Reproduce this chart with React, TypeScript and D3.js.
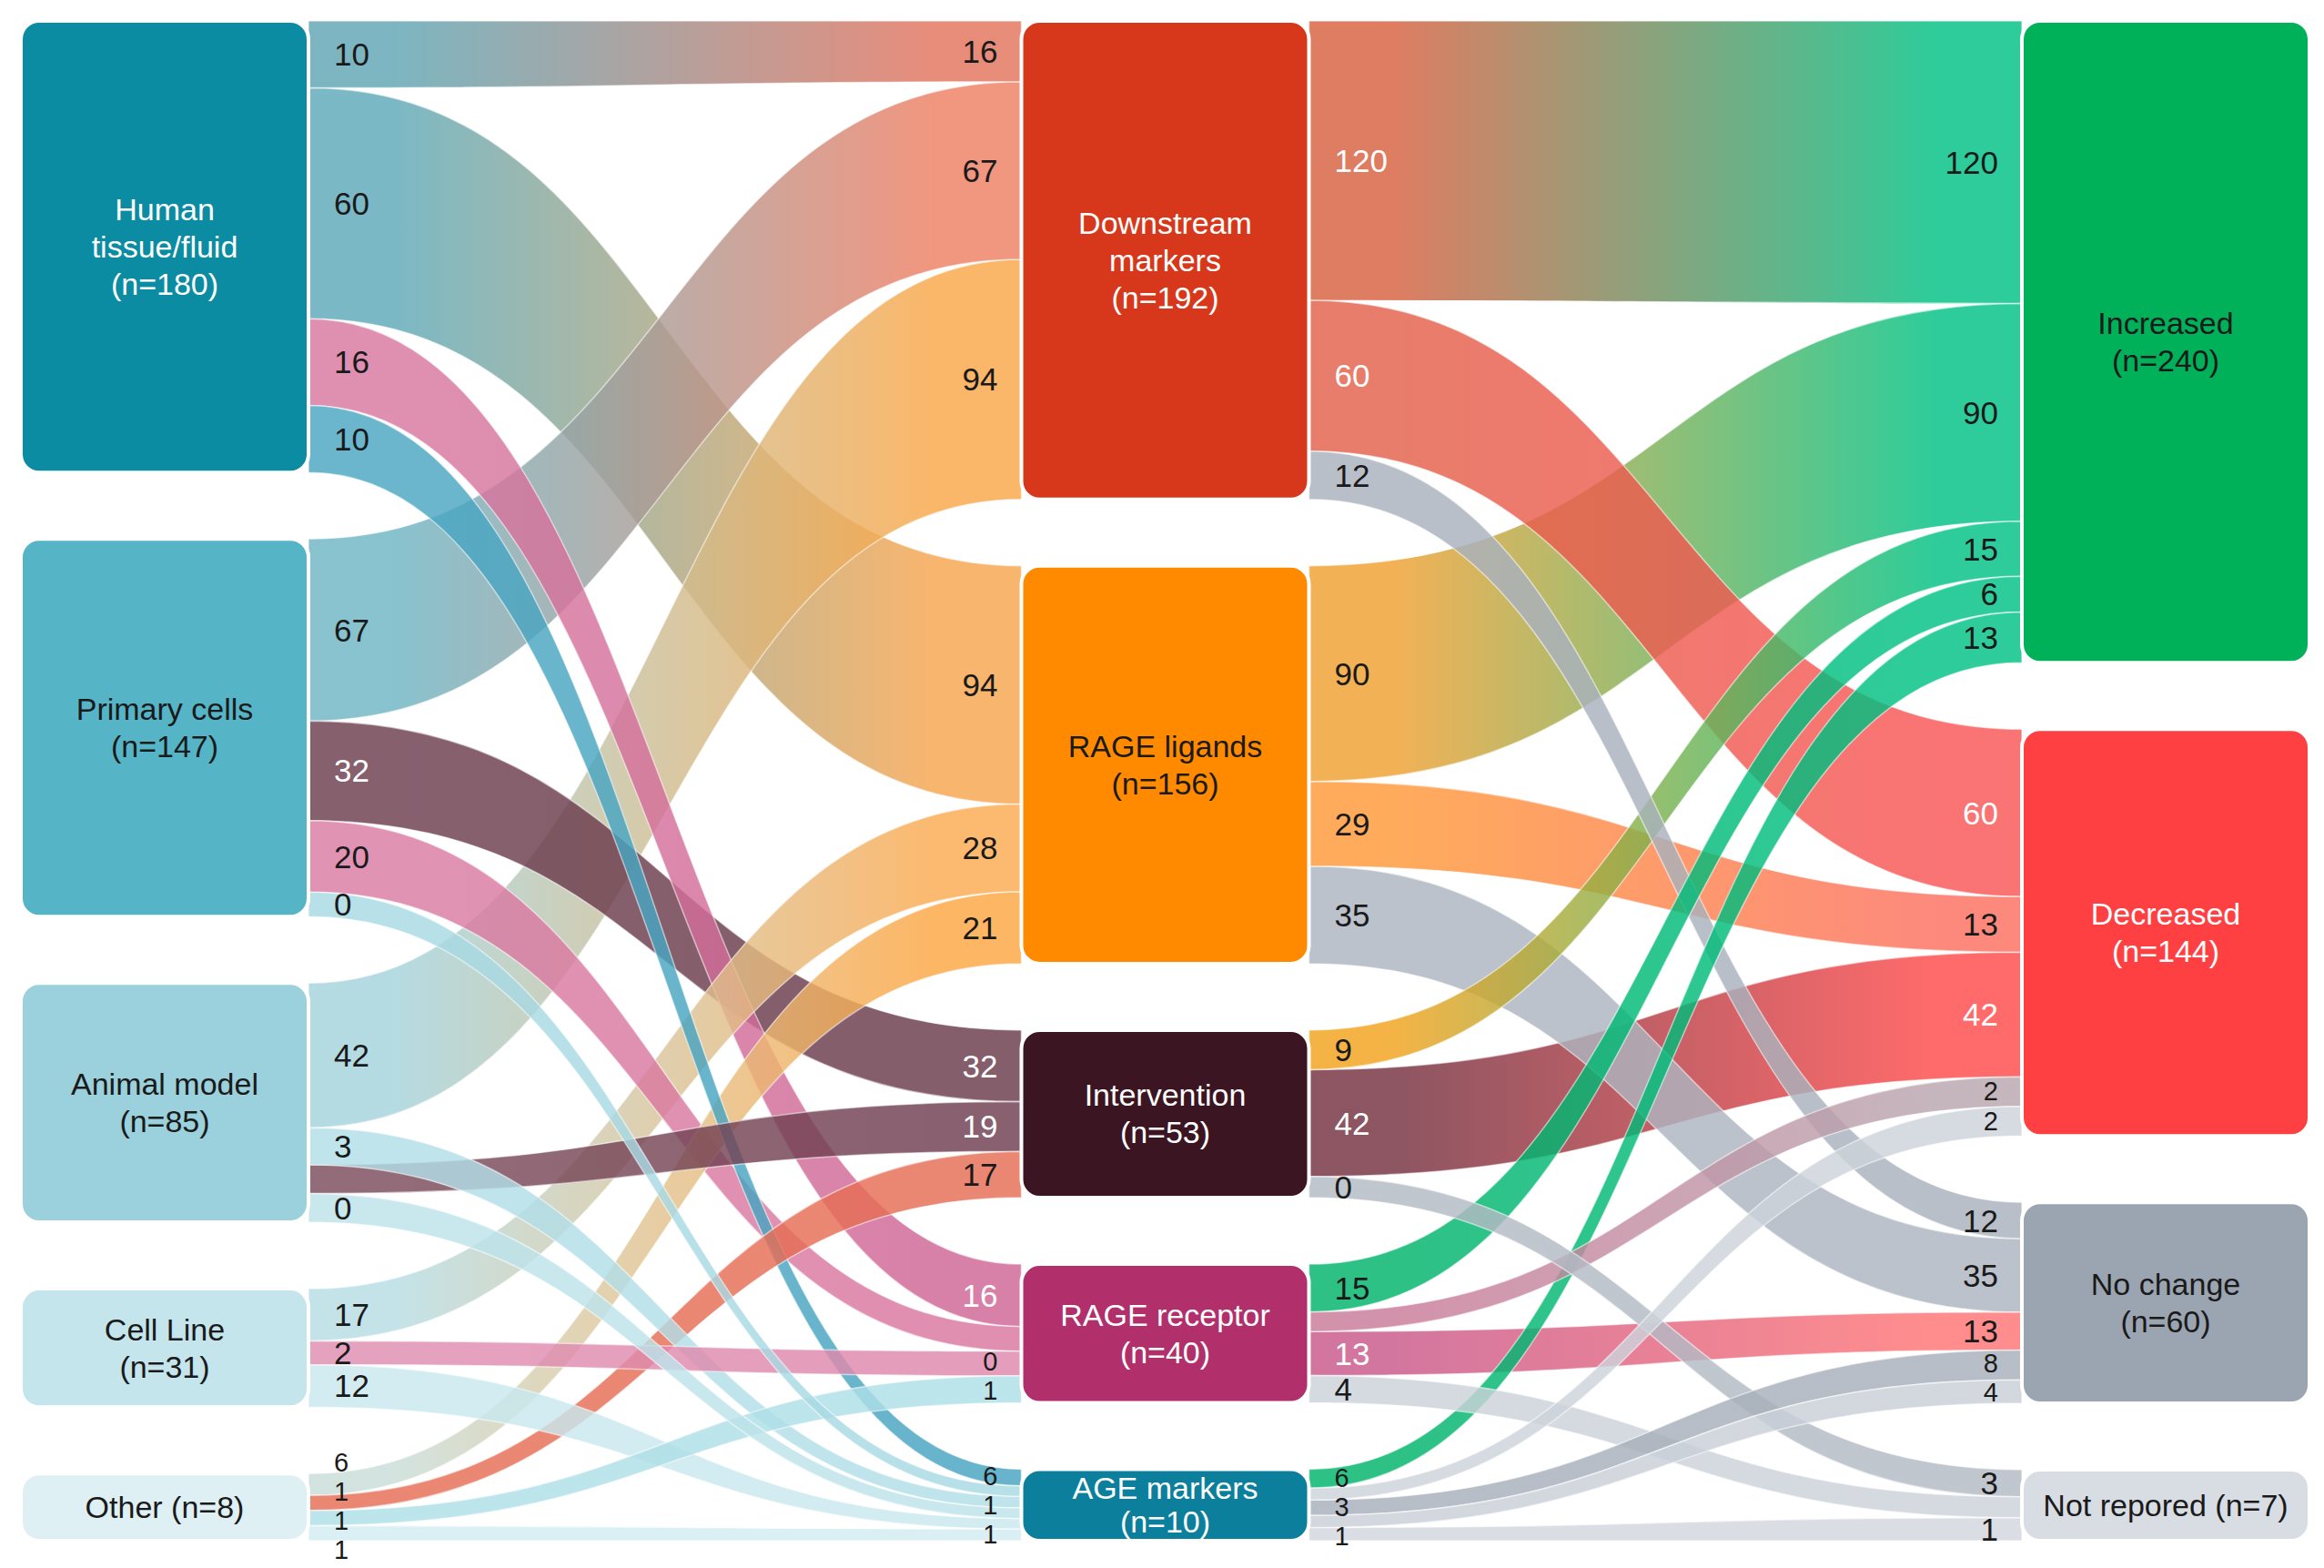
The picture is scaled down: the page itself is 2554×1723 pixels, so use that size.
import React from "react";
import * as d3 from "d3";

// column 1: study type
const studyTypes = ["Human tissue/fluid", "Primary cells", "Animal model", "Cell Line", "Other"];
const studyTypeCounts = [180, 147, 85, 31, 8];
// column 2: what was measured
const markerTypes = ["Downstream markers", "RAGE ligands", "Intervention", "RAGE receptor", "AGE markers"];
const markerTypeCounts = [192, 156, 53, 40, 10];
// column 3: direction of change
const outcomes = ["Increased", "Decreased", "No change", "Not repored"];
const outcomeCounts = [240, 144, 60, 7];

// [source, target, number printed at source end, number printed at target end]
type Flow = [string, string, number | null, number | null];
const studyToMarker: Flow[] = [
  ["Human tissue/fluid", "Downstream markers", 10, 16],
  ["Human tissue/fluid", "RAGE ligands", 60, 94],
  ["Human tissue/fluid", "RAGE receptor", 16, 16],
  ["Human tissue/fluid", "AGE markers", 10, 6],
  ["Primary cells", "Downstream markers", 67, 67],
  ["Primary cells", "Intervention", 32, 32],
  ["Primary cells", "RAGE receptor", 20, null],
  ["Primary cells", "AGE markers", 0, null],
  ["Animal model", "Downstream markers", 42, 94],
  ["Animal model", "AGE markers", 3, 1],
  ["Animal model", "Intervention", null, 19],
  ["Animal model", "AGE markers", 0, null],
  ["Cell Line", "RAGE ligands", 17, 28],
  ["Cell Line", "RAGE receptor", 2, 0],
  ["Cell Line", "AGE markers", 12, null],
  ["Other", "RAGE ligands", 6, 21],
  ["Other", "Intervention", 1, 17],
  ["Other", "RAGE receptor", 1, 1],
  ["Other", "AGE markers", 1, 1],
];
const markerToOutcome: Flow[] = [
  ["Downstream markers", "Increased", 120, 120],
  ["Downstream markers", "Decreased", 60, 60],
  ["Downstream markers", "No change", 12, 12],
  ["RAGE ligands", "Increased", 90, 90],
  ["RAGE ligands", "Decreased", 29, 13],
  ["RAGE ligands", "No change", 35, 35],
  ["Intervention", "Increased", 9, 15],
  ["Intervention", "Decreased", 42, 42],
  ["Intervention", "Not repored", 0, 3],
  ["RAGE receptor", "Increased", 15, 6],
  ["RAGE receptor", "Decreased", null, 2],
  ["RAGE receptor", "No change", 13, 13],
  ["RAGE receptor", "Not repored", 4, null],
  ["AGE markers", "Increased", 6, 13],
  ["AGE markers", "Decreased", null, 2],
  ["AGE markers", "No change", 3, 8],
  ["AGE markers", "No change", null, 4],
  ["AGE markers", "Not repored", 1, 1],
];

const nodeColors: Record<string, string> = {
  "Human tissue/fluid": "#0b8ca2",
  "Primary cells": "#55b5c6",
  "Animal model": "#9ad1dc",
  "Cell Line": "#c4e5ec",
  "Other": "#dff0f4",
  "Downstream markers": "#d7381b",
  "RAGE ligands": "#ff8a00",
  "Intervention": "#3b1522",
  "RAGE receptor": "#b1306b",
  "AGE markers": "#0b7f9c",
  "Increased": "#00b15a",
  "Decreased": "#ff4042",
  "No change": "#9ba5b1",
  "Not repored": "#d8dde4",
};

// ribbon colours, start -> end, same order as the flows
const flowColors: [string, string][] = [
  ["#5fa5b3", "#e3735d"], ["#5ea9b9", "#f7a54e"], ["#d8789f", "#cf6595"], ["#4aa6c2", "#46a3c0"],
  ["#6db5c4", "#ee7f63"], ["#6c3d4e", "#6a3a4b"], ["#da7ba2", "#d9769e"], ["#a8d9e3", "#a8d9e3"],
  ["#a5d3dc", "#f9a748"], ["#b2dee7", "#b2dee7"], ["#7b4b5b", "#6e3d4f"], ["#bde3ea", "#bde3ea"],
  ["#b7dde4", "#fbaa50"], ["#df8db0", "#de88ab"], ["#c8e8ee", "#c8e8ee"],
  ["#c9ddd8", "#fca642"], ["#e66d55", "#e66d55"], ["#aedfe7", "#aedfe7"], ["#d2ecf1", "#d2ecf1"],
  ["#d6603f", "#00c184"], ["#e3604a", "#f85555"], ["#a9b1bc", "#a9b1bc"],
  ["#f0a030", "#00c184"], ["#ff9838", "#fc6f5f"], ["#adb4bf", "#adb4bf"],
  ["#f2a21c", "#00c184"], ["#73303f", "#ff4a4a"], ["#b3bac4", "#b3bac4"],
  ["#00b36b", "#00c184"], ["#c97a98", "#b9a6ae"], ["#c9588a", "#ff7474"], ["#ccd2da", "#ccd2da"],
  ["#00b36b", "#00c184"], ["#cdd3db", "#cdd3db"], ["#a7afba", "#a7afba"], ["#c9cfd8", "#c9cfd8"], ["#d2d7de", "#d2d7de"],
];

const nodeLabelLines: Record<string, string[]> = {
  "Human tissue/fluid": ["Human", "tissue/fluid"],
  "Downstream markers": ["Downstream", "markers"],
};
const oneLineLabels = new Set(["Other", "Not repored"]);

const W = 2554;
const H = 1723;
const top = 23;
const bottom = 1693;
const gap = 73;
const nodeW = 316;
const font = "'Liberation Sans', Arial, Helvetica, sans-serif";

const textOn = (c: string) => (d3.lab(c).l < 60 ? "#ffffff" : "#1a1a1a");

// numbers on one node side: tight clusters get a smaller font and are pushed apart
const placeLabels = (ys: number[]) => {
  const res = ys.map((y) => ({ y, size: 35 }));
  let i = 0;
  while (i < ys.length) {
    let j = i;
    while (j + 1 < ys.length && ys[j + 1] - ys[j] < 36) j++;
    if (j > i) {
      const part = ys.slice(i, j + 1);
      const out = part.slice();
      for (let k = 1; k < out.length; k++) out[k] = Math.max(out[k], out[k - 1] + 32);
      let shift = d3.mean(part)! - d3.mean(out)!;
      if (out[out.length - 1] + shift > H - 20) shift = H - 20 - out[out.length - 1];
      out.forEach((y, k) => { res[i + k] = { y: y + shift, size: 29 }; });
    }
    i = j + 1;
  }
  return res;
};

const App = () => {
  const columns = [
    { names: studyTypes, counts: studyTypeCounts },
    { names: markerTypes, counts: markerTypeCounts },
    { names: outcomes, counts: outcomeCounts },
  ];
  const xCol = d3.scaleLinear().domain([0, 2]).range([23, W - 16 - nodeW]);
  const nodeWeight = d3.scaleLinear().domain([0, 100]).range([22, 122]);
  const bandWeight = d3.scaleLinear().domain([0, 60]).range([24, 162]);

  const nodes: any[] = [];
  columns.forEach((col, ci) => {
    const ws = col.counts.map((n) => nodeWeight(n));
    const k = (bottom - top - gap * (col.names.length - 1)) / d3.sum(ws);
    let y = top;
    col.names.forEach((name, i) => {
      const h = ws[i] * k;
      nodes.push({ name, n: col.counts[i], x0: xCol(ci), x1: xCol(ci) + nodeW, y0: y, y1: y + h });
      y += h + gap;
    });
  });

  const links: any[] = [...studyToMarker, ...markerToOutcome].map(([source, target, sv, tv], i) => ({
    i, source, target, sv, tv, colors: flowColors[i],
  }));

  nodes.forEach((node) => {
    const h = node.y1 - node.y0;
    const outs = links.filter((l) => l.source === node.name);
    const outW = outs.map((l) => bandWeight(l.sv ?? 0));
    let y = node.y0;
    const ko = h / (d3.sum(outW) || 1);
    outs.forEach((l, j) => { l.s0 = y; y += outW[j] * ko; l.s1 = y; l.sx = node.x1; });
    const ins = links.filter((l) => l.target === node.name);
    const inW = ins.map((l) => bandWeight(l.tv ?? 0));
    y = node.y0;
    const ki = h / (d3.sum(inW) || 1);
    ins.forEach((l, j) => { l.t0 = y; y += inW[j] * ki; l.t1 = y; l.tx = node.x0; });

    const outLab = outs.filter((l) => l.sv !== null);
    placeLabels(outLab.map((l) => (l.s0 + l.s1) / 2)).forEach((p, j) => { outLab[j].sy = p.y; outLab[j].sSize = p.size; });
    const inLab = ins.filter((l) => l.tv !== null);
    placeLabels(inLab.map((l) => (l.t0 + l.t1) / 2)).forEach((p, j) => { inLab[j].ty = p.y; inLab[j].tSize = p.size; });
  });

  const ribbon = (l: any) => {
    const p = d3.path();
    const xm = (l.sx + l.tx) / 2;
    p.moveTo(l.sx, l.s0);
    p.bezierCurveTo(xm, l.s0, xm, l.t0, l.tx, l.t0);
    p.lineTo(l.tx, l.t1);
    p.bezierCurveTo(xm, l.t1, xm, l.s1, l.sx, l.s1);
    p.closePath();
    return p.toString();
  };

  const drawOrder = [...links].sort(
    (a, b) => (b.s1 - b.s0 + b.t1 - b.t0) - (a.s1 - a.s0 + a.t1 - a.t0)
  );

  return (
    <svg width={W} height={H} style={{ position: "absolute", left: 0, top: 0, background: "#fff" }} fontFamily={font}>
      <defs>
        {links.map((l) => (
          <linearGradient key={l.i} id={`flow${l.i}`} gradientUnits="userSpaceOnUse" x1={l.sx} x2={l.tx} y1={0} y2={0}>
            <stop offset="0" stopColor={l.colors[0]} />
            <stop offset="0.12" stopColor={l.colors[0]} />
            <stop offset="0.88" stopColor={l.colors[1]} />
            <stop offset="1" stopColor={l.colors[1]} />
          </linearGradient>
        ))}
      </defs>
      <g>
        {drawOrder.map((l) => (
          <path key={l.i} d={ribbon(l)} fill={`url(#flow${l.i})`} fillOpacity={0.82} stroke="#fff" strokeOpacity={0.55} strokeWidth={1.5} />
        ))}
      </g>
      <g>
        {nodes.map((d) => {
          const color = nodeColors[d.name];
          const lines = oneLineLabels.has(d.name)
            ? [`${d.name} (n=${d.n})`]
            : [...(nodeLabelLines[d.name] ?? [d.name]), `(n=${d.n})`];
          const cy = (d.y0 + d.y1) / 2;
          const lh = d.y1 - d.y0 < 100 ? 37 : 41;
          return (
            <g key={d.name}>
              <rect x={d.x0} y={d.y0} width={nodeW} height={d.y1 - d.y0} rx={20} fill={color} stroke="#fff" strokeWidth={4} />
              <text x={d.x0 + nodeW / 2} textAnchor="middle" fontSize={34} fill={textOn(color)}>
                {lines.map((t, j) => (
                  <tspan key={j} x={d.x0 + nodeW / 2} y={cy + (j - (lines.length - 1) / 2) * lh} dominantBaseline="central">
                    {t}
                  </tspan>
                ))}
              </text>
            </g>
          );
        })}
      </g>
      <g>
        {links.map((l) => (
          <g key={l.i}>
            {l.sv !== null && (
              <text x={l.sx + 28} y={l.sy} fontSize={l.sSize} dominantBaseline="central" fill={textOn(l.colors[0])}>
                {l.sv}
              </text>
            )}
            {l.tv !== null && (
              <text x={l.tx - 26} y={l.ty} fontSize={l.tSize} dominantBaseline="central" textAnchor="end" fill={textOn(l.colors[1])}>
                {l.tv}
              </text>
            )}
          </g>
        ))}
      </g>
    </svg>
  );
};

export default App;
